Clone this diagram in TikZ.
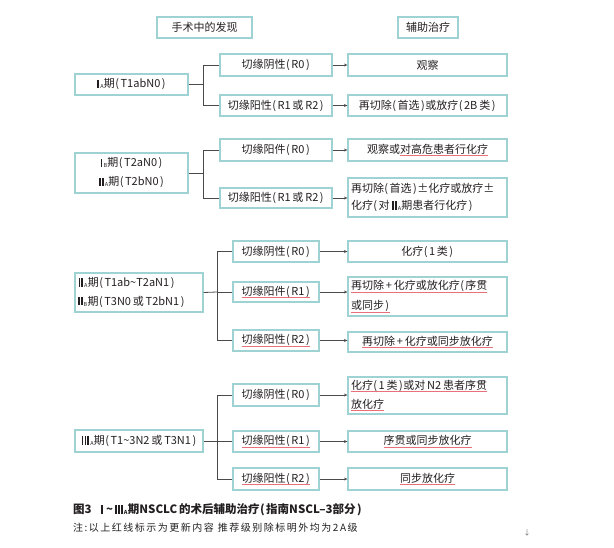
\documentclass[tikz,border=0pt]{standalone}
\usepackage{fontspec}
\setmainfont{Noto Sans CJK SC}
\usetikzlibrary{arrows.meta}
\definecolor{boxc}{HTML}{9FD2D3}
\definecolor{linec}{HTML}{4A4A4A}
\definecolor{ulred}{HTML}{E8707A}
\definecolor{txt}{HTML}{231F20}
\newcommand\rul[1]{\leavevmode\setbox0\hbox{#1}\rlap{\textcolor{ulred}{\rule[-3pt]{\wd0}{0.7pt}}}\box0}
\newcommand\sA{\raisebox{-1pt}{\fontsize{5.5}{6}\selectfont A}\kern0.3pt}
\newcommand\sB{\raisebox{-1pt}{\fontsize{5.5}{6}\selectfont B}\kern0.3pt}
\newcommand\nbar{\rule[-0.2pt]{1.7pt}{8.6pt}}
\newcommand\rI{\kern0.5pt\nbar\kern1.2pt}
\newcommand\rII{\kern0.5pt\nbar\kern1.1pt\nbar\kern1.2pt}
\newcommand\rIII{\kern0.5pt\nbar\kern1.1pt\nbar\kern1.1pt\nbar\kern1.2pt}
\newcommand\tld{\textasciitilde}
\newcommand\lp{\kern0.5pt(\kern1.5pt}
\newcommand\rp{\kern1.5pt)\kern0.5pt}
\begin{document}
\begin{tikzpicture}[x=1pt,y=-1pt,
  box/.style={draw=boxc, line width=1.2pt, inner sep=2pt, text=txt,
    font=\fontsize{11}{17}\selectfont, align=center},
  conn/.style={draw=linec, line width=0.8pt},
  arr/.style={conn, -{Stealth[length=3.5pt,width=3pt]}}]
\useasboundingbox (0,0) rectangle (614,547);

% headers
\node[box, minimum width=95pt, minimum height=21pt] (h1) at (204.5,27.5) {手术中的发现};
\node[box, minimum width=60pt, minimum height=21pt] (h2) at (428,27.5) {辅助治疗};

% group 1
\node[box, minimum width=113pt, minimum height=21pt] (L1) at (131.5,84.5) {\rI\sA{}期\lp{}T1abN0\rp{}};
\node[box, minimum width=112pt, minimum height=22pt] (M1a) at (276,65) {切缘阴性\lp{}R0\rp{}};
\node[box, minimum width=112pt, minimum height=21pt] (M1b) at (276,105.5) {切缘阳性\lp{}R1\,或\,R2\rp{}};
\node[box, minimum width=159pt, minimum height=22pt] (R1a) at (427.5,65) {观察};
\node[box, minimum width=159pt, minimum height=21pt] (R1b) at (427.5,105.5) {再切除\lp{}首选\rp{}或放疗\lp{}2B\,类\rp{}};
\coordinate (b1) at (203,84.5);
\draw[conn] (L1.east) -- (b1);
\draw[conn] (b1 |- M1a.west) -- (b1 |- M1b.west);
\draw[conn] (b1 |- M1a.west) -- (M1a.west);
\draw[conn] (b1 |- M1b.west) -- (M1b.west);
\draw[arr] (M1a.east) -- (R1a.west |- M1a.east);
\draw[arr] (M1b.east) -- (R1b.west |- M1b.east);

% group 2
\node[box, minimum width=113pt, minimum height=40pt, font=\fontsize{11}{19}\selectfont] (L2) at (131.5,173) {\rI\sB{}期\lp{}T2aN0\rp{}\\\rII\sA{}期\lp{}T2bN0\rp{}};
\node[box, minimum width=112pt, minimum height=22pt] (M2a) at (276,150) {切缘阳件\lp{}R0\rp{}};
\node[box, minimum width=112pt, minimum height=20pt] (M2b) at (276,198) {切缘阳性\lp{}R1\,或\,R2\rp{}};
\node[box, minimum width=159pt, minimum height=22pt] (R2a) at (427.5,150) {观察或\rul{对高危患者行化疗}};
\node[box, minimum width=159pt, minimum height=39pt, text width=153pt, inner sep=1pt, align=left] (R2b) at (427.5,197.5) {再切除\lp{}首选\rp{}±化疗或放疗±\\化疗\lp{}对\,\rII\sA{}期患者行化疗\rp{}};
\coordinate (b2) at (203,173);
\draw[conn] (L2.east) -- (b2);
\draw[conn] (b2 |- M2a.west) -- (b2 |- M2b.west);
\draw[conn] (b2 |- M2a.west) -- (M2a.west);
\draw[conn] (b2 |- M2b.west) -- (M2b.west);
\draw[arr] (M2a.east) -- (R2a.west |- M2a.east);
\draw[arr] (M2b.east) -- (R2b.west |- M2b.east);

% group 3
\node[box, minimum width=128pt, minimum height=39pt, text width=122pt, font=\fontsize{11}{18}\selectfont, align=left] (L3) at (139,292.5) {\rII\sA{}期\lp{}T1ab\tld{}T2aN1\rp{}\\\rII\sB{}期\lp{}T3N0\,或\,T2bN1\rp{}};
\node[box, minimum width=86pt, minimum height=21pt] (M3a) at (276,251.5) {切缘阴性\lp{}R0\rp{}};
\node[box, minimum width=86pt, minimum height=20pt] (M3b) at (276,292) {\rul{切缘阳件\lp{}R1\rp{}}};
\node[box, minimum width=86pt, minimum height=21pt] (M3c) at (276,340.5) {\rul{切缘阳性\lp{}R2\rp{}}};
\node[box, minimum width=159pt, minimum height=21pt] (R3a) at (427.5,251.5) {化疗\lp{}1\,类\rp{}};
\node[box, minimum width=159pt, minimum height=39pt, text width=153pt, inner sep=1pt, align=left, font=\fontsize{11}{20}\selectfont] (R3b) at (427.5,296.5) {\rul{再切除\,+\,化疗或放化疗\lp{}序贯}\\\rul{或同步\rp{}}};
\node[box, minimum width=159pt, minimum height=20pt] (R3c) at (427.5,342) {\rul{再切除\,+\,化疗或同步放化疗}};
\coordinate (b3) at (217,292);
\draw[conn] (L3.east) -- (b3);
\draw[conn] (b3 |- M3a.west) -- (b3 |- M3c.west);
\draw[conn] (b3 |- M3a.west) -- (M3a.west);
\draw[conn] (b3 |- M3b.west) -- (M3b.west);
\draw[conn] (b3 |- M3c.west) -- (M3c.west);
\draw[arr] (M3a.east) -- (R3a.west |- M3a.east);
\draw[arr] (M3b.east) -- (R3b.west |- M3b.east);
\draw[arr] (M3c.east) -- (R3c.west |- M3c.east);

% group 4
\node[box, minimum width=128pt, minimum height=22pt] (L4) at (139,441) {\rIII\sA{}期\lp{}T1\tld{}3N2\,或\,T3N1\rp{}};
\node[box, minimum width=86pt, minimum height=22pt] (M4a) at (276,395) {切缘阴性\lp{}R0\rp{}};
\node[box, minimum width=86pt, minimum height=21pt] (M4b) at (276,441.5) {\rul{切缘阳性\lp{}R1\rp{}}};
\node[box, minimum width=86pt, minimum height=22pt] (M4c) at (276,479) {\rul{切缘阳性\lp{}R2\rp{}}};
\node[box, minimum width=159pt, minimum height=37pt, text width=153pt, inner sep=1pt, align=left, font=\fontsize{11}{19}\selectfont] (R4a) at (427.5,395.5) {\rul{化疗\lp{}1\,类\rp{}或对\,N2\,患者序贯}\\\rul{放化疗}};
\node[box, minimum width=159pt, minimum height=21pt] (R4b) at (427.5,441.5) {\rul{序贯或同步放化疗}};
\node[box, minimum width=159pt, minimum height=22pt] (R4c) at (427.5,479) {\rul{同步放化疗}};
\coordinate (b4) at (217,441);
\draw[conn] (L4.east) -- (b4);
\draw[conn] (b4 |- M4a.west) -- (b4 |- M4c.west);
\draw[conn] (b4 |- M4a.west) -- (M4a.west);
\draw[conn] (b4 |- M4b.west) -- (M4b.west);
\draw[conn] (b4 |- M4c.west) -- (M4c.west);
\draw[arr] (M4a.east) -- (R4a.west |- M4a.east);
\draw[arr] (M4b.east) -- (R4b.west |- M4b.east);
\draw[arr] (M4c.east) -- (R4c.west |- M4c.east);

% caption
\node[anchor=west, inner sep=0pt, text=txt, font=\fontsize{11.5}{13}\selectfont\bfseries] (cap) at (73,510) {图3\hspace{9pt}\rI\,\tld\,\rIII\sA{}期NSCLC\,的术后辅助治疗\lp{}指南NSCL–3部分\rp{}};
\node[anchor=west, inner sep=0pt, text=txt, font=\fontsize{10}{12}\selectfont\addfontfeatures{LetterSpace=15}] (note) at (73,528) {注:以上红线标示为更新内容\hspace{4pt}推荐级别除标明外均为2A级};
\node[inner sep=0pt, text=black!60, font=\fontsize{7}{8}\selectfont] (mark) at (527,533) {↓};
\end{tikzpicture}
\end{document}
